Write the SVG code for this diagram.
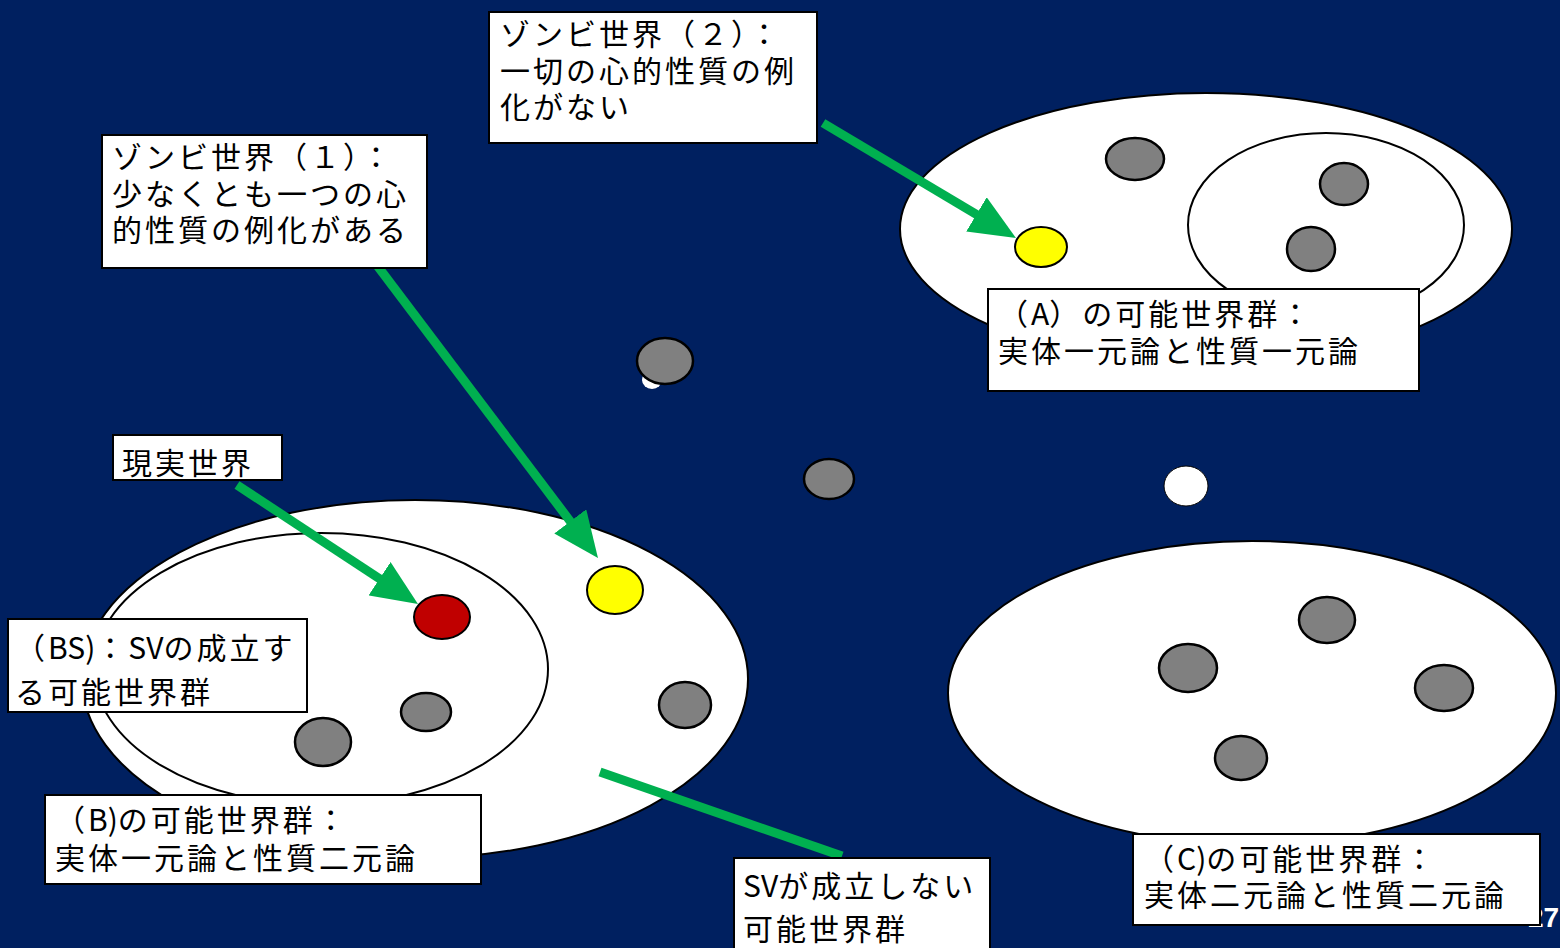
<svg xmlns="http://www.w3.org/2000/svg" width="1560" height="948" viewBox="0 0 1560 948">
<style>
.bg{fill:#002060}
.set{fill:#ffffff;stroke:#000;stroke-width:2}
.gray{fill:#808080;stroke:#000;stroke-width:2.5}
.yel{fill:#ffff00;stroke:#000;stroke-width:2}
.red{fill:#c00000;stroke:#000;stroke-width:2}
.box{fill:#ffffff;stroke:#000;stroke-width:2}
.t{font-family:"Noto Sans CJK JP","Noto Sans",sans-serif;font-size:30px;letter-spacing:3px;fill:#000}
.l{letter-spacing:0px}
.arr{stroke:#00b050;stroke-width:9;fill:none}
.pg{font-family:"Liberation Sans",Arial,sans-serif;font-weight:bold;font-size:28px;fill:#fff}
</style>
<defs>
<marker id="ah" markerUnits="userSpaceOnUse" markerWidth="46" markerHeight="40" refX="16" refY="20" orient="auto">
<path d="M0,0 L46,20 L0,40 z" fill="#00b050"/>
</marker>
</defs>
<rect class="bg" x="0" y="0" width="1560" height="948"/>

<g id="setA">
<ellipse class="set" cx="1206" cy="229" rx="306" ry="136"/>
<ellipse class="set" cx="1326" cy="225" rx="138" ry="92"/>
<ellipse class="gray" cx="1135" cy="159" rx="29" ry="21"/>
<ellipse class="gray" cx="1344" cy="184" rx="24" ry="21"/>
<ellipse class="gray" cx="1311" cy="249" rx="24" ry="22"/>
<ellipse class="yel" cx="1041" cy="247" rx="26" ry="20"/>
</g>

<g id="setB">
<ellipse class="set" cx="415" cy="679" rx="333" ry="179"/>
<ellipse class="set" cx="321" cy="669" rx="227" ry="136"/>
<ellipse class="red" cx="442" cy="617" rx="28" ry="22"/>
<ellipse class="yel" cx="615" cy="590" rx="28" ry="24"/>
<ellipse class="gray" cx="426" cy="712" rx="25" ry="19"/>
<ellipse class="gray" cx="323" cy="742" rx="28" ry="24"/>
<ellipse class="gray" cx="685" cy="705" rx="26" ry="23"/>
</g>

<g id="setC">
<ellipse class="set" cx="1252" cy="693" rx="304" ry="152"/>
<ellipse class="gray" cx="1327" cy="620" rx="28" ry="23"/>
<ellipse class="gray" cx="1188" cy="668" rx="29" ry="24"/>
<ellipse class="gray" cx="1444" cy="688" rx="29" ry="23"/>
<ellipse class="gray" cx="1241" cy="758" rx="26" ry="22"/>
</g>

<g id="freeWorlds">
<ellipse cx="652" cy="380" rx="10" ry="9" fill="#fff"/>
<ellipse class="gray" cx="665" cy="361" rx="28" ry="23"/>
<ellipse class="gray" cx="829" cy="479" rx="25" ry="20"/>
<ellipse cx="1186" cy="486" rx="22" ry="20" fill="#fff" stroke="#000" stroke-width="1"/>
</g>

<text class="pg" x="1528" y="927">27</text>

<g id="connectors">
<line class="arr" x1="823" y1="123" x2="990.2" y2="222.6" marker-end="url(#ah)"/>
<line class="arr" x1="373" y1="260" x2="579.9" y2="534.1" marker-end="url(#ah)"/>
<line class="arr" x1="237" y1="485" x2="392.9" y2="587.5" marker-end="url(#ah)"/>
<line class="arr" x1="600" y1="772" x2="842" y2="856"/>
</g>

<g id="label-zombie2">
<rect class="box" x="489" y="12" width="328" height="131"/>
<text class="t" x="500" y="45">ゾンビ世界（２）：</text>
<text class="t" x="500" y="82">一切の心的性質の例</text>
<text class="t" x="500" y="118">化がない</text>
</g>

<g id="label-zombie1">
<rect class="box" x="102" y="135" width="325" height="133"/>
<text class="t" x="112" y="168">ゾンビ世界（１）：</text>
<text class="t" x="112" y="205">少なくとも一つの心</text>
<text class="t" x="112" y="241">的性質の例化がある</text>
</g>

<g id="label-actual">
<rect class="box" x="113" y="435" width="169" height="45"/>
<text class="t" x="122" y="474">現実世界</text>
</g>

<g id="label-A">
<rect class="box" x="988" y="289" width="431" height="102"/>
<text class="t" x="998" y="325">（<tspan class="l">A</tspan>）の可能世界群：</text>
<text class="t" x="998" y="362">実体一元論と性質一元論</text>
</g>

<g id="label-BS">
<rect class="box" x="8" y="619" width="299" height="93"/>
<text class="t" x="15" y="659">（<tspan class="l">BS)</tspan>：<tspan class="l">SV</tspan>の成立す</text>
<text class="t" x="15" y="703">る可能世界群</text>
</g>

<g id="label-B">
<rect class="box" x="45" y="795" width="436" height="89"/>
<text class="t" x="55" y="831">（<tspan class="l">B)</tspan>の可能世界群：</text>
<text class="t" x="55" y="869">実体一元論と性質二元論</text>
</g>

<g id="label-SV">
<rect class="box" x="734" y="858" width="256" height="100"/>
<text class="t" x="743" y="897"><tspan class="l">SV</tspan>が成立しない</text>
<text class="t" x="743" y="940">可能世界群</text>
</g>

<g id="label-C">
<rect class="box" x="1133" y="834" width="407" height="91"/>
<text class="t" x="1144" y="870">（<tspan class="l">C)</tspan>の可能世界群：</text>
<text class="t" x="1144" y="906">実体二元論と性質二元論</text>
</g>
</svg>
